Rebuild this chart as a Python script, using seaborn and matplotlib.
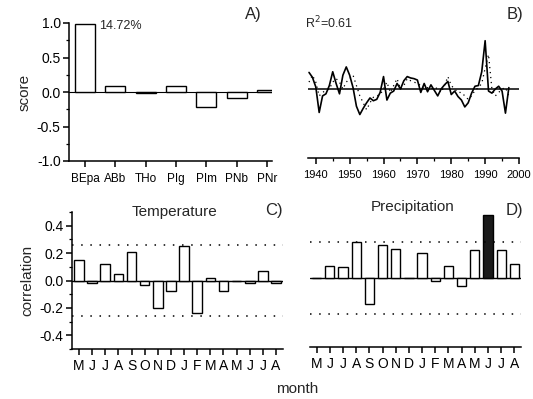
import numpy as np
import pandas as pd
import matplotlib
matplotlib.use("Agg")
import matplotlib.pyplot as plt
import seaborn as sns
from matplotlib.ticker import MultipleLocator

# ---------------- data ----------------
species = ["BEpa", "ABb", "THo", "PIg", "PIm", "PNb", "PNr"]
scores = [0.98, 0.08, -0.02, 0.08, -0.22, -0.08, 0.03]
explained = "14.72%"

years = list(range(1938, 1998))
observed = [0.24, 0.17, 0.03, -0.34, -0.10, -0.07, 0.05, 0.25, 0.08, -0.07,
            0.20, 0.32, 0.20, 0.02, -0.25, -0.37, -0.28, -0.20, -0.13, -0.17,
            -0.15, -0.05, 0.18, -0.16, -0.06, -0.03, 0.08, 0.00, 0.12, 0.18,
            0.16, 0.15, 0.13, -0.05, 0.08, -0.04, 0.06, -0.02, -0.10, 0.00,
            0.06, 0.11, -0.08, -0.03, -0.11, -0.16, -0.26, -0.20, -0.06, 0.04,
            0.05, 0.25, 0.70, -0.03, -0.06, 0.00, 0.04, -0.03, -0.35, 0.02]
predicted = [0.10, 0.20, 0.10, -0.10, -0.05, -0.02, 0.00, 0.10, 0.15, 0.10,
             0.00, 0.10, 0.15, 0.20, 0.05, -0.10, -0.20, -0.30, -0.20, -0.12,
             -0.10, -0.08, 0.00, 0.10, -0.05, 0.05, 0.15, 0.00, 0.05, 0.15,
             0.12, 0.10, 0.08, 0.05, 0.00, 0.02, 0.00, 0.03, 0.00, -0.05,
             0.05, 0.18, 0.05, 0.00, -0.05, -0.05, -0.10, -0.15, -0.10, -0.02,
             0.02, 0.08, 0.30, 0.50, 0.00, -0.10, -0.05, 0.00, 0.02, -0.10]
r2_text = "R$^2$=0.61"

months = ["M", "J", "J", "A", "S", "O", "N", "D", "J", "F", "M", "A", "M", "J", "J", "A"]
temp_corr = [0.15, -0.02, 0.12, 0.05, 0.21, -0.03, -0.20, -0.08,
             0.25, -0.24, 0.02, -0.08, 0.00, -0.02, 0.07, -0.02]
prec_corr = [0.00, 0.09, 0.08, 0.26, -0.19, 0.24, 0.21, 0.00,
             0.18, -0.02, 0.09, -0.06, 0.20, 0.46, 0.20, 0.10]
prec_significant = 13
signif_level = 0.26

# ---------------- style ----------------
sns.set_style("ticks")
plt.rcParams["font.family"] = ["Liberation Sans", "DejaVu Sans"]
plt.rcParams["axes.linewidth"] = 1.1
plt.rcParams["xtick.major.width"] = 1.1
plt.rcParams["ytick.major.width"] = 1.1
plt.rcParams["xtick.minor.width"] = 0.9
plt.rcParams["ytick.minor.width"] = 0.9
plt.rcParams["xtick.major.size"] = 4.5
plt.rcParams["ytick.major.size"] = 4
plt.rcParams["xtick.minor.size"] = 2.5
plt.rcParams["ytick.minor.size"] = 2.5
plt.rcParams["xtick.color"] = "black"
plt.rcParams["ytick.color"] = "black"
plt.rcParams["axes.edgecolor"] = "black"

W, H = 533, 399
fig = plt.figure(figsize=(W / 100, H / 100), dpi=100)


def box(l, t, r, b):
    return [l / W, 1 - b / H, (r - l) / W, (b - t) / H]


axA = fig.add_axes(box(69, 23, 272, 161))
axB = fig.add_axes(box(308, 20, 519, 158))
axC = fig.add_axes(box(72, 212, 283, 349))
axD = fig.add_axes(box(310, 209, 521, 347))

dot_style = dict(color="black", linewidth=1.1, linestyle=(0, (1, 5)))

# ---- Panel A ----
dfA = pd.DataFrame({"species": species, "score": scores})
sns.barplot(data=dfA, x="species", y="score", ax=axA, color="white",
            edgecolor="black", linewidth=1.0, width=0.66, saturation=1)
axA.axhline(0, color="black", linewidth=0.8, zorder=0)
axA.set_xlim(-0.53, 6.16)
axA.set_ylim(-1, 1)
axA.set_yticks([-1.0, -0.5, 0.0, 0.5, 1.0])
axA.set_yticklabels(["-1.0", "-0.5", "0.0", "0.5", "1.0"])
axA.yaxis.set_minor_locator(MultipleLocator(0.25))
axA.set_xlabel("")
axA.set_ylabel("score", fontsize=11, labelpad=4)
axA.tick_params(axis="y", labelsize=10, pad=2)
axA.tick_params(axis="x", labelsize=8.5, pad=4)
sns.despine(ax=axA)
axA.text(0.45, 0.96, explained, fontsize=9, va="center", ha="left")
fig.text(262 / W, 1 - 15 / H, "A)", fontsize=12, ha="right", va="center")

# ---- Panel B ----
dfB = pd.DataFrame({"year": years, "observed": observed, "predicted": predicted})
sns.lineplot(data=dfB, x="year", y="predicted", ax=axB, color="black",
             linewidth=0.9, linestyle=(0, (1, 3)))
sns.lineplot(data=dfB, x="year", y="observed", ax=axB, color="black", linewidth=1.2)
axB.axhline(0, color="black", linewidth=1.1)
axB.set_xlim(1937.7, 2000)
axB.set_ylim(-1, 1)
axB.set_xticks(range(1940, 2001, 10))
axB.xaxis.set_minor_locator(MultipleLocator(5))
axB.set_yticks([])
axB.set_xlabel("")
axB.set_ylabel("")
axB.tick_params(axis="x", labelsize=8, pad=4)
sns.despine(ax=axB, left=True)
fig.text(305 / W, 1 - 23 / H, r2_text, fontsize=9, ha="left", va="center")
fig.text(523 / W, 1 - 15 / H, "B)", fontsize=12, ha="right", va="center")

# ---- Panel C ----
dfC = pd.DataFrame({"m": range(len(months)), "corr": temp_corr})
sns.barplot(data=dfC, x="m", y="corr", ax=axC, color="white",
            edgecolor="black", linewidth=1.0, width=0.73, saturation=1)
axC.axhline(0, color="black", linewidth=1.0, zorder=0)
axC.axhline(signif_level, **dot_style)
axC.axhline(-signif_level, **dot_style)
axC.set_xlim(-0.53, 15.53)
axC.set_ylim(-0.5, 0.5)
axC.set_yticks([-0.4, -0.2, 0.0, 0.2, 0.4])
axC.set_yticklabels(["-0.4", "-0.2", "0.0", "0.2", "0.4"])
axC.yaxis.set_minor_locator(MultipleLocator(0.1))
axC.set_xticks(range(len(months)))
axC.set_xticklabels(months)
axC.set_xlabel("")
axC.set_ylabel("correlation", fontsize=11, labelpad=4)
axC.tick_params(axis="y", labelsize=10, pad=2)
axC.tick_params(axis="x", labelsize=10, pad=3)
sns.despine(ax=axC)
fig.text(175 / W, 1 - 212 / H, "Temperature", fontsize=11, ha="center", va="center")
fig.text(283 / W, 1 - 211 / H, "C)", fontsize=12, ha="right", va="center")

# ---- Panel D ----
dfD = pd.DataFrame({"m": range(len(months)), "corr": prec_corr})
sns.barplot(data=dfD, x="m", y="corr", ax=axD, color="white",
            edgecolor="black", linewidth=1.0, width=0.70, saturation=1)
axD.patches[prec_significant].set_facecolor("#1a1a1a")
axD.axhline(0, color="black", linewidth=1.0, zorder=0)
axD.axhline(signif_level, **dot_style)
axD.axhline(-signif_level, **dot_style)
axD.set_xlim(-0.5, 15.5)
axD.set_ylim(-0.5, 0.5)
axD.set_yticks([])
axD.set_xticks(range(len(months)))
axD.set_xticklabels(months)
axD.set_xlabel("")
axD.set_ylabel("")
axD.tick_params(axis="x", labelsize=10, pad=3)
sns.despine(ax=axD, left=True)
fig.text(413 / W, 1 - 207 / H, "Precipitation", fontsize=11, ha="center", va="center")
fig.text(523 / W, 1 - 210 / H, "D)", fontsize=12, ha="right", va="center")

fig.text(297 / W, 1 - 389 / H, "month", fontsize=11, ha="center", va="center")

fig.savefig("out.png", dpi=100, facecolor="white")
